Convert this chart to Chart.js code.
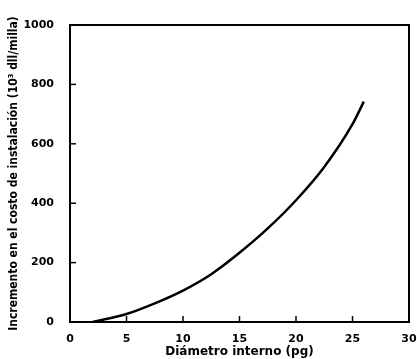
<!DOCTYPE html>
<html>
<head>
<meta charset="utf-8">
<script src="https://cdn.jsdelivr.net/npm/chart.js@4"></script>
<style>
  html, body { margin: 0; padding: 0; background: #fff; }
  #wrap { width: 417px; height: 359px; }
</style>
</head>
<body>
<div id="wrap"><canvas id="chart"></canvas></div>
<script>
// values
const diametro = [2, 5, 7.5, 10, 12.5, 15, 17.5, 20, 22.5, 25, 26];
const incremento = [0, 27, 63, 106, 161, 233, 315, 410, 522, 666, 742];
const xTicks = [0, 5, 10, 15, 20, 25, 30];
const yTicks = [0, 200, 400, 600, 800, 1000];

const tickFont = { family: 'DejaVu Sans', size: 11, weight: 'bold' };

// short tick marks drawn inside the frame, plus the frame itself
const frame = {
    id: 'frame',
    afterDraw(chart) {
        const { ctx, chartArea: a, scales } = chart;
        ctx.save();
        ctx.strokeStyle = '#000';
        ctx.lineWidth = 2;
        ctx.strokeRect(a.left, a.top, a.right - a.left, a.bottom - a.top);
        ctx.lineWidth = 1.5;
        xTicks.slice(1, -1).forEach((v) => {
            const px = scales.x.getPixelForValue(v);
            ctx.beginPath();
            ctx.moveTo(px, a.bottom);
            ctx.lineTo(px, a.bottom - 6);
            ctx.stroke();
        });
        yTicks.slice(1, -1).forEach((v) => {
            const py = scales.y.getPixelForValue(v);
            ctx.beginPath();
            ctx.moveTo(a.left, py);
            ctx.lineTo(a.left + 6, py);
            ctx.stroke();
        });
        ctx.restore();
    }
};

new Chart(document.getElementById('chart'), {
    type: 'line',
    data: {
        datasets: [{
            data: diametro.map((x, i) => ({ x: x, y: incremento[i] })),
            borderColor: '#000',
            borderWidth: 2.5,
            pointRadius: 0,
            cubicInterpolationMode: 'monotone',
            fill: false,
        }]
    },
    options: {
        responsive: true,
        maintainAspectRatio: false,
        animation: false,
        layout: { padding: { top: 25, right: 8, left: 7, bottom: 0 } },
        plugins: { legend: { display: false }, tooltip: { enabled: false } },
        scales: {
            x: {
                type: 'linear',
                min: 0,
                max: 30,
                afterBuildTicks: (s) => { s.ticks = xTicks.map((v) => ({ value: v })); },
                afterFit: (s) => { s.height = 37; s.paddingRight = 0; s.paddingLeft = 0; },
                grid: { display: false },
                border: { display: false },
                ticks: { color: '#000', font: tickFont, padding: 3, maxRotation: 0 },
                title: {
                    display: true,
                    text: 'Diámetro interno (pg)',
                    color: '#000',
                    font: { family: 'DejaVu Sans', size: 12, weight: 'bold' },
                    padding: { top: -2, bottom: 0 }
                }
            },
            y: {
                min: 0,
                max: 1000,
                afterBuildTicks: (s) => { s.ticks = yTicks.map((v) => ({ value: v })); },
                afterFit: (s) => { s.width = 63; },
                grid: { display: false },
                border: { display: false },
                ticks: {
                    color: '#000',
                    font: tickFont,
                    padding: 8,
                    callback: (v) => String(v)
                },
                title: {
                    display: true,
                    text: 'Incremento en el costo de instalación (10³ dll/milla)',
                    color: '#000',
                    font: { family: 'DejaVu Sans Condensed', size: 12, weight: 'bold' },
                    padding: { top: 0, bottom: 0 }
                }
            }
        }
    },
    plugins: [frame]
});
</script>
</body>
</html>
